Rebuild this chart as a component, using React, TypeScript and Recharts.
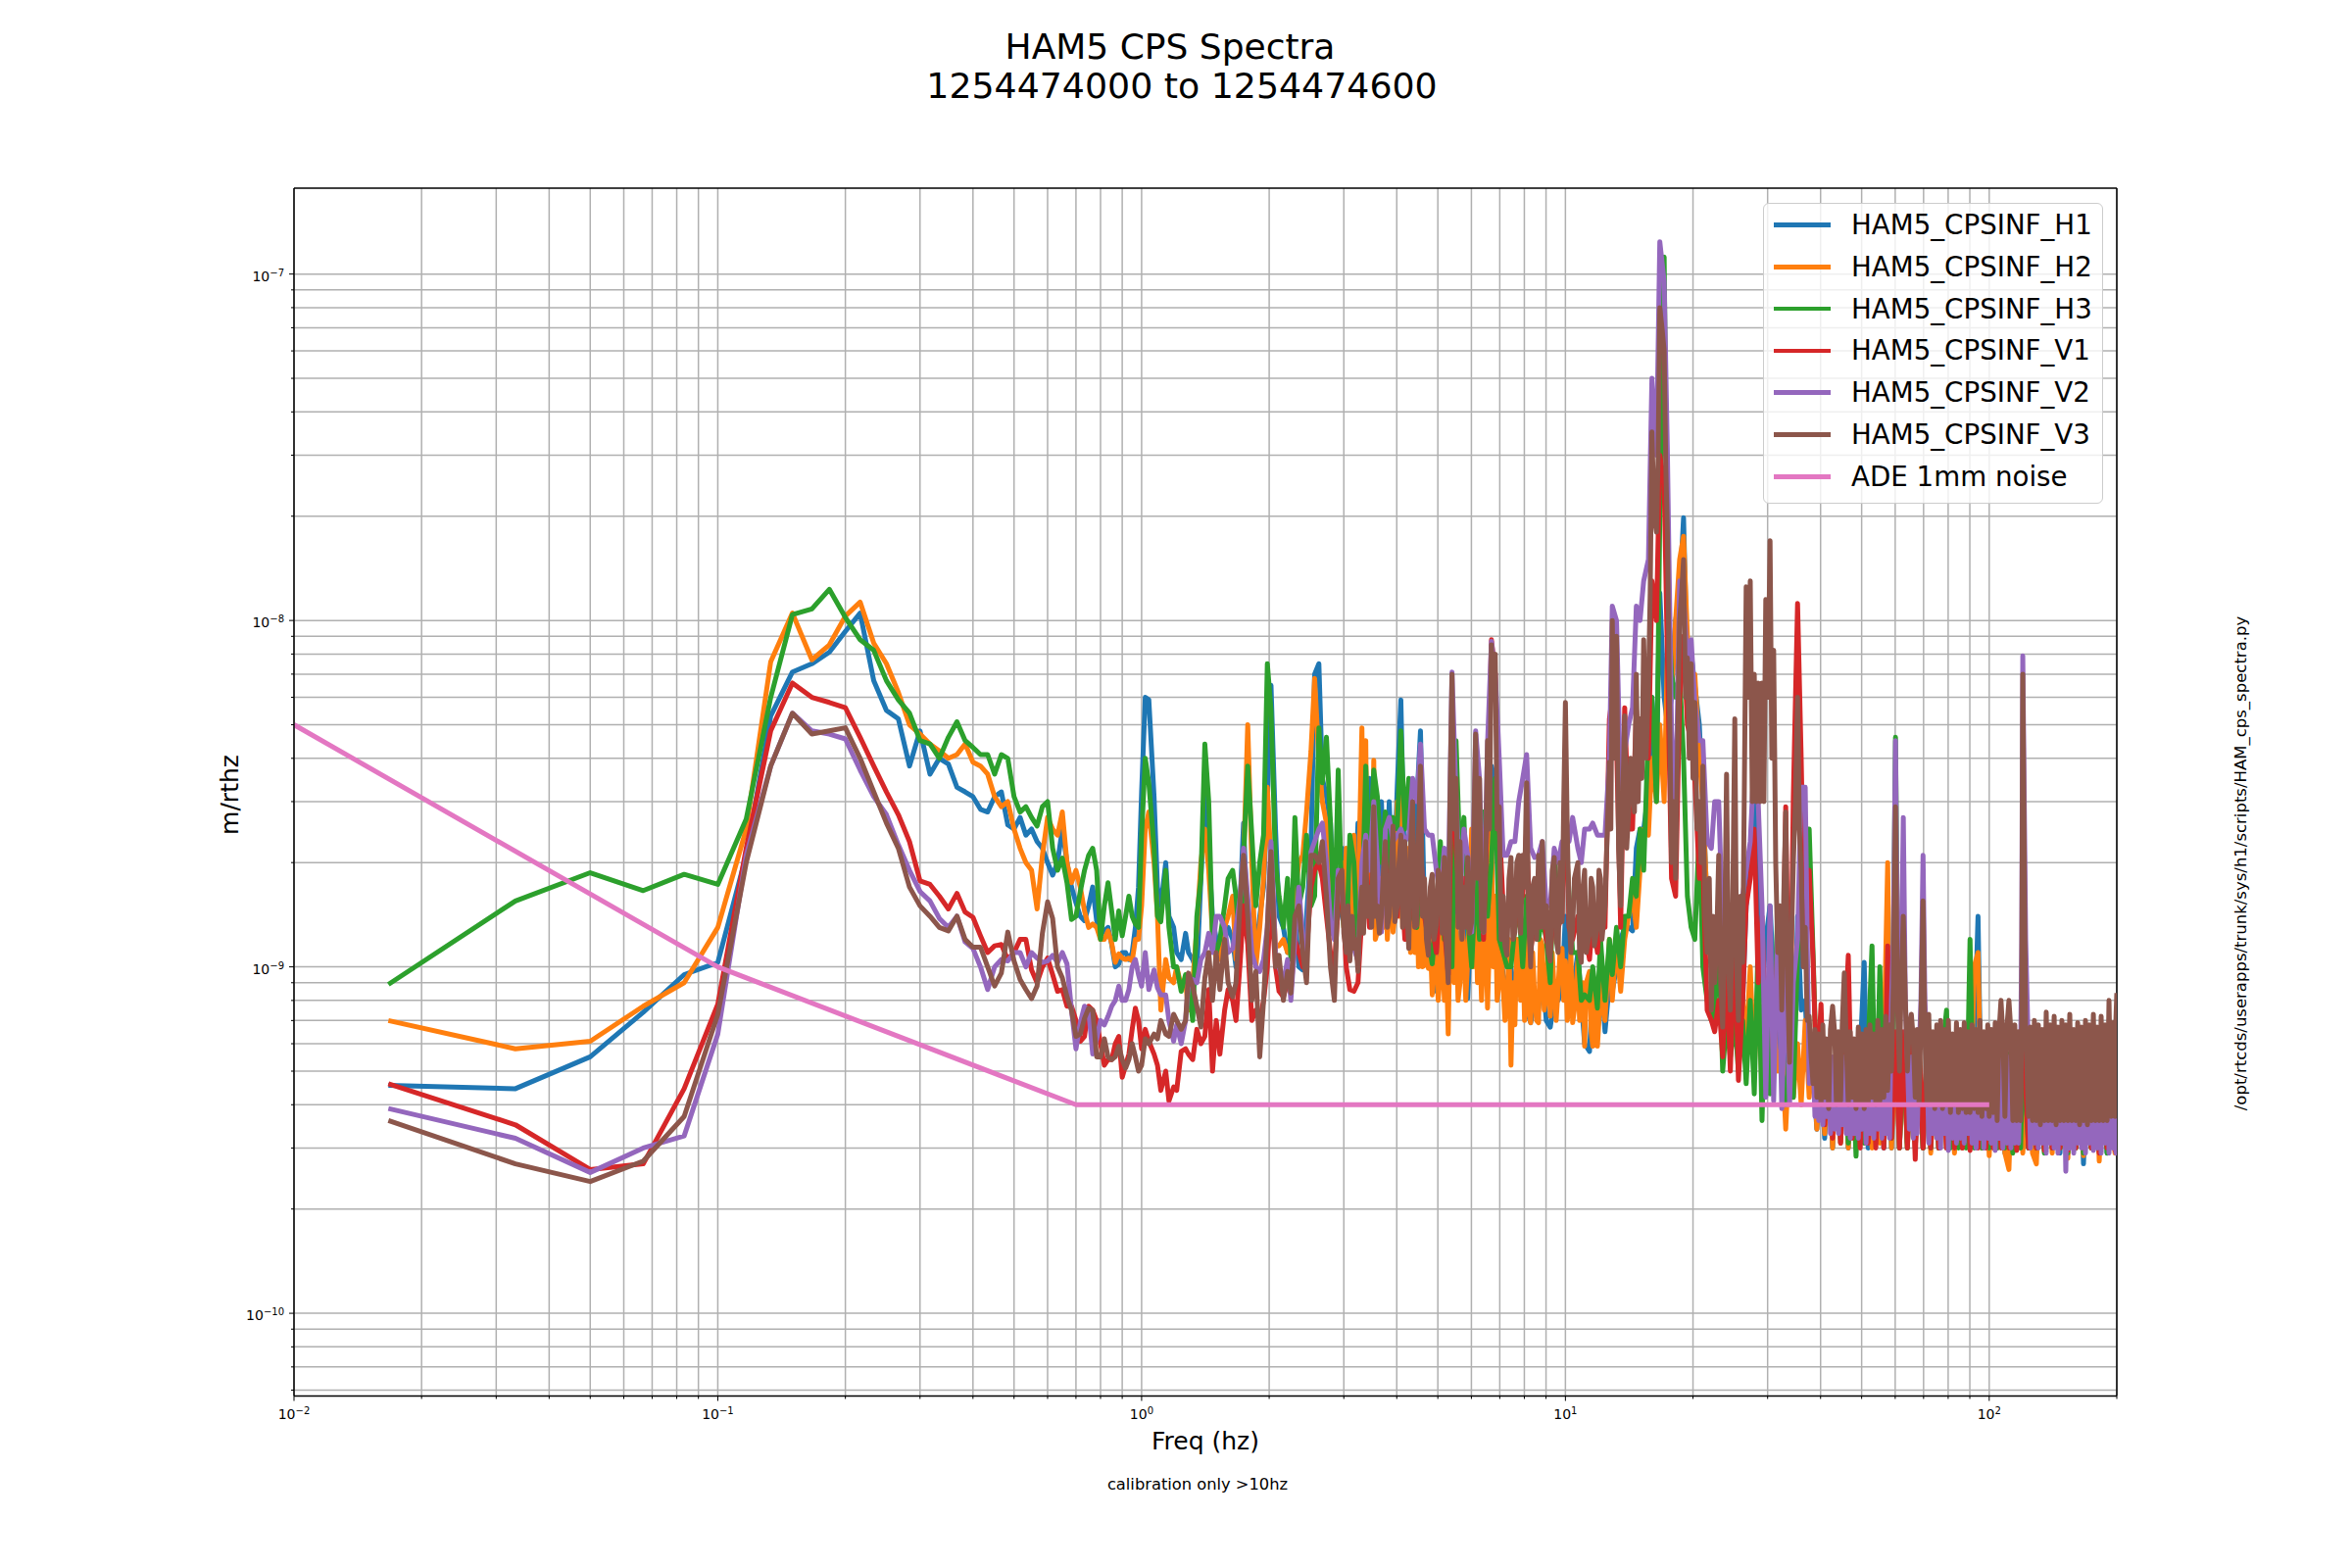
import { LineChart, Line, XAxis, YAxis, CartesianGrid, Legend, ReferenceLine } from "recharts";

// series values in units of 1e-10 m/rtHz
const UNIT = 1e-10;

const freqs = [
  0.0167,0.0333,0.05,0.0667,0.0833,0.1,0.1167,0.1333,0.15,0.1667,
  0.1833,0.2,0.2167,0.2333,0.25,0.2667,0.2833,0.3,0.3167,0.3333,
  0.35,0.3667,0.3833,0.4,0.4167,0.4333,0.45,0.4667,0.4833,0.5,
  0.5167,0.5333,0.55,0.5667,0.5833,0.6,0.6167,0.6333,0.65,0.6667,
  0.6833,0.7,0.7167,0.7333,0.75,0.7667,0.7833,0.8,0.8167,0.8333,
  0.85,0.8667,0.8833,0.9,0.9167,0.9333,0.95,0.9667,0.9833,1.0,
  1.02,1.04,1.07,1.09,1.11,1.14,1.16,1.19,1.21,1.24,
  1.27,1.29,1.32,1.35,1.38,1.41,1.44,1.47,1.50,1.53,
  1.57,1.60,1.64,1.67,1.71,1.74,1.78,1.82,1.86,1.90,
  1.94,1.98,2.02,2.07,2.11,2.16,2.21,2.25,2.30,2.35,
  2.40,2.45,2.51,2.56,2.62,2.67,2.73,2.79,2.85,2.91,
  2.97,3.04,3.10,3.17,3.24,3.31,3.38,3.45,3.53,3.60,
  3.68,3.76,3.84,3.92,4.01,4.09,4.18,4.27,4.36,4.46,
  4.55,4.65,4.75,4.85,4.96,5.07,5.18,5.29,5.40,5.52,
  5.64,5.76,5.88,6.01,6.14,6.27,6.41,6.55,6.69,6.83,
  6.98,7.13,7.28,7.44,7.60,7.76,7.93,8.10,8.28,8.46,
  8.64,8.82,9.01,9.21,9.41,9.61,9.82,
  10.0,10.2,10.4,10.7,10.9,11.1,11.4,11.6,11.9,12.1,
  12.4,12.7,12.9,13.2,13.5,13.8,14.1,14.4,14.7,15.0,
  15.3,15.7,16.0,16.4,16.7,17.1,17.4,17.8,18.2,18.6,
  19.0,19.4,19.8,20.2,20.7,21.1,21.6,22.1,22.5,23.0,
  23.5,24.0,24.5,25.1,25.6,26.2,26.7,27.3,27.9,28.5,
  29.1,29.7,30.4,31.0,31.7,32.4,33.1,33.8,34.5,35.3,
  36.0,36.8,37.6,38.4,39.2,40.1,40.9,41.8,42.7,43.6,
  44.6,45.5,46.5,47.5,48.5,49.6,50.7,51.8,52.9,54.0,
  55.2,56.4,57.6,58.8,60.1,61.4,62.7,64.1,65.5,66.9,
  68.3,69.8,71.3,72.8,74.4,76.0,77.6,79.3,81.0,82.8,
  84.6,86.4,88.2,90.1,92.1,94.1,96.1,98.2,100,102.2,
  104.4,106.6,108.9,111.3,113.7,116.1,118.6,120,123.8,126.5,
  129.2,132,134.9,137.8,140.8,143.8,146.9,150,153.3,156.6,
  160,163.4,166.9,170.5,174.2,178,181.8,185.7,189.7,193.8,
  198,200,
];

// finer frequency steps for the stretches where the traces merge into a solid mass
const midFineFreqs = [
  2.97,3.00,3.04,3.07,3.10,3.14,3.17,3.20,3.24,3.27,
  3.31,3.34,3.38,3.41,3.45,3.49,3.53,3.56,3.60,3.64,
  3.68,3.72,3.76,3.80,3.84,3.88,3.92,3.96,4.01,4.05,
  4.09,4.13,4.18,4.22,4.27,4.31,4.36,4.41,4.46,4.50,
  4.55,4.60,4.65,4.70,4.75,4.80,4.85,4.90,4.96,5.01,
  5.07,5.12,5.18,5.23,5.29,5.34,5.40,5.46,5.52,5.58,
  5.64,5.70,5.76,5.82,5.88,5.94,6.01,6.07,6.14,6.20,
  6.27,6.34,6.41,6.48,6.55,6.62,6.69,6.76,6.83,6.90,
  6.98,7.05,7.13,7.20,7.28,7.36,7.44,7.52,7.60,7.68,
  7.76,7.84,7.93,8.01,8.10,8.19,8.28,8.37,8.46,8.55,
  8.64,8.73,8.82,8.91,9.01,9.11,9.21,9.31,9.41,9.51,
  9.61,9.71,9.82,9.91,10.0,10.1,10.2,10.3,10.4,10.5,
  10.7,10.8,10.9,11.0,11.1,11.2,11.4,11.5,11.6,11.7,
  11.9,12.0,12.1,12.2,12.4,
];
const peakFineFreqs = [
  12.7,12.8,12.9,13.05,13.2,13.35,13.5,13.65,13.8,13.95,
  14.1,14.25,14.4,14.55,14.7,14.85,15.0,15.15,15.3,15.5,
  15.7,15.85,16.0,16.2,16.4,16.55,16.7,16.9,17.1,17.25,
  17.4,17.6,17.8,18.0,18.2,18.4,18.6,18.8,19.0,19.2,
  19.4,19.6,19.8,20.0,20.2,20.45,20.7,20.9,21.1,21.35,
  21.6,21.85,22.1,22.3,22.5,22.75,23.0,23.25,23.5,23.75,
  24.0,24.25,24.5,24.8,25.1,25.35,25.6,25.9,26.2,26.45,
  26.7,27.0,27.3,27.6,27.9,28.2,28.5,28.8,29.1,29.4,
  29.7,30.05,30.4,30.7,31.0,31.35,31.7,32.05,32.4,32.75,
  33.1,33.45,33.8,34.15,34.5,34.9,35.3,35.65,36.0,36.4,
  36.8,37.2,37.6,38.0,
];
const bandFreqs = [
  38.4,38.8,39.2,39.6,40.1,40.5,40.9,41.3,41.8,42.2,
  42.7,43.2,43.6,44.1,44.6,45.0,45.5,46.0,46.5,47.0,
  47.5,48.0,48.5,49.1,49.6,50.1,50.7,51.2,51.8,52.3,
  52.9,53.4,54.0,54.6,55.2,55.8,56.4,57.0,57.6,58.2,
  58.8,59.4,60.1,60.7,61.4,62.0,62.7,63.4,64.1,64.8,
  65.5,66.2,66.9,67.6,68.3,69.0,69.8,70.5,71.3,72.0,
  72.8,73.6,74.4,75.2,76.0,76.8,77.6,78.4,79.3,80.1,
  81.0,81.9,82.8,83.7,84.6,85.5,86.4,87.3,88.2,89.1,
  90.1,91.1,92.1,93.1,94.1,95.1,96.1,97.1,98.2,99.2,
  100,101.1,102.2,103.3,104.4,105.5,106.6,107.7,108.9,110.1,
  111.3,112.5,113.7,114.9,116.1,117.3,118.6,119.3,120,121.9,
  123.8,125.1,126.5,127.8,129.2,130.6,132,133.4,134.9,136.3,
  137.8,139.3,140.8,142.3,143.8,145.3,146.9,148.4,150,151.6,
  153.3,154.9,156.6,158.3,160,161.7,163.4,165.1,166.9,168.7,
  170.5,172.3,174.2,176.1,178,179.9,181.8,183.7,185.7,187.7,
  189.7,191.7,193.8,195.9,198,199,200,
];

const h1 = [
  4.55,4.45,5.5,7.4,9.5,10.3,21,53,71,75,
  81,93,105,67,55,52,38,48,36,40,
  38.5,33,32,31,28.5,28,31,32,25.7,25,
  27,24,25,23,22,20,18.4,20,25,20,
  17,15.3,14,13.6,15,17,13.6,12.4,12.7,13,
  11.6,10,10.2,11,11,10.5,11,13,17,32,
  60,59,31,17,15,20,14,13,11,10.5,
  12.5,11,10.5,9.7,18,31,21,14,12,11,
  12,13,12,10,16,26,12.5,10.5,11,14,
  17,30,65,25,14,13,11,12,14,10,
  9.8,14,22,70,75,35,31,26,12.5,14,
  22,21,14,13,26,15,16,35,16,15,
  30,14,30,15,33,59,17,14,18,30,
  48,14,10,10,8.5,13,10,11,18,13,
  11,14,8.1,15,11,19,10,14,38,34,
  12,9.5,8.8,10,8,12,10,7.5,6.9,8,
  7.6,10,7,6.7,8,8,8.6,
  14,9.5,8.5,11,8,6,5.7,9,6.5,10,
  6.5,9,8.5,10,12,13,13,12.7,22,25,
  25,32,60,37,120,60,50,60,100,120,
  198,70,80,65,50,30,15,12,11,13,
  7,10,6.5,11,6,8,15,20,38,20,
  8,12,15,9,5.5,7,4.6,7,4.3,14,
  7.5,8,4.5,5,3.4,5,3.2,5.6,3,5.6,
  3.1,5.6,3,5.6,3.1,5.6,10.3,3,5.6,3.1,
  5.6,3,5.6,3,5.8,3,5.6,3.1,5.6,3,
  5.6,3,5.6,3,5.6,3,5.6,3,5.6,3,
  5.6,3,5.6,3,5.8,14,3,5.6,3,5.6,
  3,5.6,2.9,5.6,3,5.6,3,5.6,3,5.6,
  2.9,5.6,3,5.6,3,5.6,2.9,5.6,3,5.6,
  3,5.6,2.7,5.6,3,5.6,2.9,5.6,2.9,5.8,
  3,6.4,
];

const h2Low = [
  7,5.8,6.1,7.7,9,13,25,76,105,77,
  85,103,113,86,75,62,50,47,44,42,
  40,41,44,39,38,36,31,29,30,25,
  22,20,19,14.7,21,27,25,24,28,20,
  17.5,19,17,14.5,13,13.3,13,12,12,12.7,
  11.7,10.3,10.9,10.6,10.5,10.6,10.4,12,12,15,
  25,28,20,14,7.5,10.5,9.3,9,10,8.8,
  9,7.5,9,13,20,25,19,12.5,10.5,10.5,
  13,14,16,10.5,13,20,50,20,10,13,
  18,33,20,11.5,11.5,12,11,11,16,20,
  21,28,42,68,40,30,26,12.5,14,18,
];
const h2Fine = [
  20,13,22,12,16,13,24,11,10.4,25,
  49,20,45,14,25,14,39.5,12,12.6,18,
  14,13,22,12,15,18,12.6,14,30,14,
  35,13,15,12,22,11,16,11,17.5,10,
  16,10,10.1,14,9.9,12,8.3,13,10.4,8,
  9.6,13,8,11,6.4,12,14,9,14,8,
  9,13,11.3,8,10.4,16,25,10,16,9,
  12.6,8,11.3,14,7.6,12,26,10,16,8,
  9,12,8.8,7,7.6,12,5.2,9,6.8,12,
  11.6,8,11.3,7,14.2,7.5,6.9,11,8.2,7,
  6.9,12,11.5,7.5,8.2,11,7.2,11,8.6,7,
  8.6,11,11.3,8,10.4,7,7.6,11,6.9,7.5,
  10.4,7,7.2,9,5.9,9,9.7,6.5,5.9,9,
  5.9,7,9,8,7,
];
const h2High = [
  12,8,12,8.5,12,14,16,13,19,
  25,24,40,30,50,30,80,60,100,150,
  175,90,50,70,40,30,15,10,9,12,
  6.5,9,6,10,5.5,8,6,10,5,9,
  4.5,8,4.6,7,5,6,3.4,6,4.2,6,
  4,7,4.2,5.8,3.4,5.6,3.3,5.6,3,5.6,
  3.1,5.6,3,5.6,3,5.6,3.1,5.6,3,5.6,
  3.1,5.8,20,3,6,3,5.8,3,5.6,3,
  5.8,3,5.6,2.9,5.6,3,5.6,3,5.6,2.9,
  5.6,3,5.6,3,10,11,3,5.6,2.85,5.6,
  3,5.6,2.9,2.6,5.6,3,5.6,2.9,5.6,2.9,
  2.7,5.6,3,5.6,2.9,5.6,3,5.6,2.8,5.6,
  3,5.6,2.85,5.6,3,5.6,2.75,5.6,3,5.8,
  2.9,6.4,
];

const h3 = [
  8.9,15.5,18.7,16.6,18.5,17.3,26.7,60,104,108,
  123,102,88,82,67,59,54,45,44,40,
  46,51,45,43,41,41,36,41,40,31,
  28,29,27,25.5,29,30,22,19,20.6,17.5,
  13.7,14,16.5,19,21,22,19,12,15,17.5,
  14.5,12,14.5,12.3,14,16,14,13.3,13,24,
  40,34,22,14,13.5,19,13,10,10,8.5,
  9.5,9,7,14,18,44,30,12,11,12,
  15,18,19,16,11,21,38,24,15,20,
  24,75,55,20,16,13,18,10.5,27,15,
  17,24,15,16,49,34,46,26,13,37,
  15,11,24,20,11,14,38,20,37,31,
  20,28,18,27,25,48,25,35,14,13,
  19,16,12,10.2,14,23,12,17,10,45,
  20,27,14,10,18,12,28,14,20,35,
  12,11,10,10,13,15,10,16,11,15,
  12,14,12,9,21,15,21,
  25,16,11,11,8,8.3,8,10,7.6,12,
  8,12,9.5,13,10,14,14,18,16,25,
  19,50,60,30,200,1120,130,70,60,70,
  40,16,13,12,25,10,8,7,7.5,12,
  5,7,5.5,7,5,7,4.6,8,4.3,12,
  3.6,9,4.3,6,15,5,4,6,4.2,11,
  14,25,25,11,4.5,6,3.6,5.8,3.4,5.5,
  3.2,5.5,3.1,5.6,2.84,5.6,3.1,5.8,11.5,3.2,
  10,3.1,5.8,3.2,46,3,6,3,5.8,3.1,
  5.8,3,5.6,3,5.6,3,5.8,7.5,3,5.6,
  3,5.6,3,12,3,5.8,3,5.6,3,5.6,
  3,5.6,3,5.6,2.9,5.8,3,5.8,3,5.8,
  3,5.6,2.9,5.8,3,5.8,3,5.8,2.9,5.8,
  3,5.8,2.9,5.8,3,5.8,2.95,5.8,2.9,6,
  3,6.4,
];

const v1 = [
  4.6,3.5,2.6,2.7,4.45,7.8,22,48,66,60,
  58,56,46,38,32,27.5,23,17.7,17.3,16,
  14.7,16.3,14.4,13.9,12.3,11,11.5,11.6,10.5,11,
  12,12,9.8,9,10,10.6,9.5,8.5,8.6,7.7,
  7.7,7,6.1,6.3,7.7,7.5,7,6,5.2,5.4,
  5.4,6,6.3,4.8,5.2,5.6,6.6,7.6,7,5.8,
  6.6,6.1,5.6,5.2,4.4,5,4.1,4.5,4.4,5.7,
  5.8,5.6,5.4,6.6,6,6.3,8.6,5,7,5.6,
  7.5,8.6,8,7,10.5,15,11.6,7,7.5,7,
  8,10,16,10,8.5,8.2,9,8.5,12,11,
  10,11,17,19,20,18,14,11,10,15,
  17,10,8.6,8.5,9,14,18,13,24,15,
  14,20,15,17,14,19,12,13,20,15,
  22,14,12,13,11,16,13,9.5,40,22,
  15,18,15,14,35,25,12,30,88,70,
  26,15,13,15,13,18,16,25,11,14,
  15,17,12,11,15,13,14,
  35,13,12,14,11,13,10.5,14,11,15,
  13,52,60,45,13,56,25,25,55,35,
  60,40,130,100,300,250,80,18,16,60,
  90,50,45,35,18,20,7.5,7,6.5,8,
  5.5,10,5,12,4.7,8,15,18,25,9,
  14,6,11,5.2,12,6,29,4.8,31,112,
  40,10,19,10.5,4.5,7.8,3.5,6,3.2,6,
  3.1,6,10.8,3.2,6,3,6,3.1,6,3,
  6,3,11.5,3.2,6.5,3,6.5,3,6,2.78,
  6,3,6,3,6,3,6,3,6.2,3,
  6,3,6,2.95,6,3,6,3,6,3,
  6,3,6.2,3,6,2.95,6,7,3,6,
  3,6,2.95,6,3,6,3,6,2.95,6,
  3,6,3,6,3,6,2.9,6,3,6,
  2.95,6.5,
];

const v2Main = [
  3.9,3.2,2.55,3,3.25,6.4,21,38,54,48,
  47,45.5,37,31,27.5,22.5,19,16.5,15.5,13.8,
  13,14,11.8,11.3,10,8.6,10,10.5,10.4,11,
  11,10,11,10.6,10.3,10.4,10.8,10.3,11,10.2,
  7.5,5.8,6.9,7.7,7.5,5.6,6.2,7,6.8,7.2,
  7.7,8,8.8,8,8,8.6,10,10.5,9.5,8.8,
  11,8.6,9.8,8.7,8.3,8.3,7,6.1,6.8,6,
  7,9,9.2,9,10.5,11,12.5,11,14,14,
  13,11,11.3,13,16,22,16,11,10,9.7,
  10.5,13,23,11,10,9,10.5,8,12,17,
  12,11,21.5,23,25,26,20,13.5,12,19,
  16,12.6,12.6,11.3,10.4,20,24,19,30,20,
  12.6,25,27,23,24,25,23,24,35,30,
  44,25,24,24,19,16,22,16,71,31,
  16,25,21,12.6,48,35,12.6,44,87,70,
  40,21,21,23,23,30,35,41,22,20.7,
  21,23,15,15,22,20,23,
  23,23,27,22,20,25,25,26,24,24,
  24,40,110,100,33,42,50,56,110,100,
  130,150,500,300,1240,950,310,48,27,130,
  120,75,88,58,45,45,23,22,30,30,
  13,12,13,15,15,16,19,23,40,30,
  15,4.2,15,4.1,14,3.9,10.5,4,9,12,
  33,33,4.6,
];
const v2Band = [
  5.5,3.7,5.5,3.6,5.5,3.5,5.5,3.7,5.5,3.3,
  5.5,3.4,5.5,3.3,5.5,3.5,5.5,3.3,5.5,3.2,
  5.5,3.3,5.5,3.2,5.5,3.4,5.5,3.1,5.5,3.3,
  5.5,3.2,5.5,3.4,5.5,3.2,5.5,3.3,5.5,3.2,
  8,12,45,12,8,10,27,8,5.5,3.4,
  5.5,3.2,5.5,3.3,5.5,8,21,8,5.5,3.1,
  5.5,3.3,5.5,3.2,5.5,3,5.5,3.3,5.5,2.95,
  5.5,3.2,5.5,3.1,5.5,3.2,5.5,3.1,5.5,3.3,
  5.5,3.1,5.5,3,5.5,3.2,5.5,3,5.5,3.2,
  5.5,3.1,5.5,2.95,5.5,3.2,5.5,3,5.5,3.1,
  5.5,3,5.5,3.1,5.5,3.1,5.5,12,79,12,
  5.5,3,5.5,3.1,5.5,3,5.5,3.1,5.5,2.9,
  5.5,3.1,5.5,3,5.5,2.9,5.5,3.1,5.5,2.57,
  5.5,3,5.5,2.9,5.5,3.1,5.5,3,5.5,2.9,
  5.5,3.1,5.5,2.95,5.5,3,5.5,2.9,5.5,3.1,
  5.5,2.9,5.5,3,5.5,2.9,6.5,
];

const v3Low = [
  3.6,2.7,2.4,2.75,3.7,7.3,20,38,54,47,
  48,49,40,32,26,22,17,15,14,13,
  12.7,14,12,11.4,11.4,10,8.8,9.6,12.6,10.4,
  9.2,8.6,8.1,8.8,12.5,15.4,13.8,10,9.3,8.2,
  7.5,6.3,6.4,7.1,7.6,7.5,5.5,5.5,6.2,5.5,
  5.4,5.5,5.9,5.4,5.1,5.4,6,5.5,5,5.2,
  6.2,6,6.4,6.2,7,6.4,6.3,7.3,7,6.6,
  7,9.6,8.8,7.7,6.7,9.3,11,8,11,8.6,
  12,9,8.2,9,16,21,14,8,9.7,5.5,
  8,13,21.5,10,10.8,8,9.7,8.4,14,15,
  11,9,21,21,20,23,16,10,8,18,
];
const v3Mid = [
  19,12.5,11,15,10.4,14,11.3,12,9.7,14,
  17,12.5,23,14,17,13,29,14,15,12.5,
  14,19,23,13,14,19,25.5,13.5,15,20,
  24,13,23,15,11.3,22,30,13,13.2,24,
  38,14,18,12,10.8,17,18.5,12,13.2,19,
  18,12.5,20.7,12,9,30,70,25,35,13,
  23,12,17,13,20.7,12.5,13.5,22,47,18,
  35,13,12.6,20,45,25,85,60,80,25,
  29,12,16,11.5,10.8,18,20.7,12,12.6,20,
  21,12.5,21,17,34,14,10,17,18,12,
  21,13,23,13,15,11,10.4,19,20.7,12,
  11,20,13.5,30,58,25,14,11,13,18,
  20,11,10.3,17,19,11,12.5,18,17,11.5,
  13,19,18,12,15,
];
const v3Peaks = [
  39,25,100,40,90,22,15,30,53,22,
  28,40,33,28,70,30,52,35,88,40,
  65,120,350,200,180,300,800,700,600,280,
  180,60,20,30,18,45,100,120,150,60,
  78,40,75,35,58,25,30,20,38,14,
  11,18,7.5,14,9,12,21,9,6.7,12,
  36,10,7.5,14,52,10,7,16,10.3,35,
  125,60,130,30,70,30,66,30,66,30,
  115,60,170,40,82,20,11,15,7.5,16,
  28,9,5.3,12,20,30,60,25,19,10,
  13,7,7.2,5.5,
];
const v3Band = [
  4.6,6.6,4.2,6.4,4,6.8,4.2,6.2,3.9,6.6,
  7.7,6.4,4,6.5,4.1,6.8,9.6,6,4,6.5,
  4.2,6.2,3.9,6.7,4.1,6.4,3.9,6.6,4,6.8,
  4.2,6.4,4,7,4.1,6.6,4.2,7.2,4.4,6.8,
  5,9,29,8,5,9,14,8,5,6.8,
  7.3,6.2,4.2,6.6,4,7,15.5,6.4,4,7.3,
  4.1,6.5,3.9,6.8,4,7,3.9,6.6,4,7,
  3.8,6.4,4,6.9,3.8,6.6,3.9,6.9,3.8,6.5,
  3.8,6.8,3.9,6.6,3.8,7,3.7,6.5,3.9,6.8,
  3.7,6.6,3.8,6.9,3.6,6.5,8,6.4,3.7,6.7,
  8,6.5,3.6,6.8,3.6,6.5,3.6,6.8,70,6.5,
  3.7,6.7,3.6,7,3.6,6.8,3.5,6.6,3.6,7.4,
  3.6,6.8,3.6,7.2,3.5,6.7,3.6,7,3.6,6.8,
  3.6,7.3,3.6,6.6,3.6,6.9,3.5,6.7,3.6,7,
  3.5,6.8,3.6,7.3,3.6,6.7,3.6,7.2,3.6,6.8,
  3.6,8,3.7,6.9,3.7,7,8.4,
];

const adeFreqs = [0.01, 0.1, 0.7, 100];
const adeValues = [50, 10, 4, 4];

const xTicks = [
  0.01,0.02,0.03,0.04,0.05,0.06,0.07,0.08,0.09,
  0.1,0.2,0.3,0.4,0.5,0.6,0.7,0.8,0.9,
  1,2,3,4,5,6,7,8,9,
  10,20,30,40,50,60,70,80,90,
  100,200,
];
const yTicks = [
  6e-11,7e-11,8e-11,9e-11,
  1e-10,2e-10,3e-10,4e-10,5e-10,6e-10,7e-10,8e-10,9e-10,
  1e-9,2e-9,3e-9,4e-9,5e-9,6e-9,7e-9,8e-9,9e-9,
  1e-8,2e-8,3e-8,4e-8,5e-8,6e-8,7e-8,8e-8,9e-8,
  1e-7,
];
const xDomain = [0.01, 200];
const yDomain = [5.77e-11, 1.77e-7];

function rows(fs: number[], vs: number[]) {
  return fs.map((f, i) => ({ f, value: vs[i] * UNIT }));
}

const lowFreqs = freqs.slice(0, 110);
const highFreqs = freqs.slice(178);

const series = [
  { name: "HAM5_CPSINF_H1", color: "#1f77b4", data: rows(freqs, h1) },
  {
    name: "HAM5_CPSINF_H2",
    color: "#ff7f0e",
    data: rows([...lowFreqs, ...midFineFreqs, ...highFreqs], [...h2Low, ...h2Fine, ...h2High]),
  },
  { name: "HAM5_CPSINF_H3", color: "#2ca02c", data: rows(freqs, h3) },
  { name: "HAM5_CPSINF_V1", color: "#d62728", data: rows(freqs, v1) },
  {
    name: "HAM5_CPSINF_V2",
    color: "#9467bd",
    data: rows([...freqs.slice(0, 230), ...bandFreqs], [...v2Main, ...v2Band]),
  },
  {
    name: "HAM5_CPSINF_V3",
    color: "#8c564b",
    data: rows(
      [...lowFreqs, ...midFineFreqs, ...peakFineFreqs, ...bandFreqs],
      [...v3Low, ...v3Mid, ...v3Peaks, ...v3Band],
    ),
  },
  { name: "ADE 1mm noise", color: "#e377c2", data: rows(adeFreqs, adeValues) },
];

const FONT = "'DejaVu Sans', sans-serif";

function decade(value: number) {
  const exp = Math.log10(value);
  return Math.abs(exp - Math.round(exp)) < 1e-6 ? Math.round(exp) : null;
}

function expLabel(exp: number) {
  return exp < 0 ? `−${-exp}` : `${exp}`;
}

function XTick({ x, y, payload }: any) {
  const exp = decade(payload.value);
  return (
    <g>
      <line x1={x} x2={x} y1={y} y2={y + (exp === null ? 3 : 5)} stroke="#000" strokeWidth={1} />
      {exp !== null && (
        <text x={x} y={y + 23.5} textAnchor="middle" fontSize={14} fontFamily={FONT} fill="#000">
          10<tspan dy={-5} fontSize={10}>{expLabel(exp)}</tspan>
        </text>
      )}
    </g>
  );
}

function YTick({ x, y, payload }: any) {
  const exp = decade(payload.value);
  return (
    <g>
      <line x1={x} x2={x - (exp === null ? 3 : 5)} y1={y} y2={y} stroke="#000" strokeWidth={1} />
      {exp !== null && (
        <text x={x - 10} y={y + 7} textAnchor="end" fontSize={14} fontFamily={FONT} fill="#000">
          10<tspan dy={-5} fontSize={10}>{expLabel(exp)}</tspan>
        </text>
      )}
    </g>
  );
}

function LegendBox({ payload }: any) {
  return (
    <div
      style={{
        position: "relative",
        width: 347,
        height: 307,
        boxSizing: "border-box",
        background: "rgba(255,255,255,0.8)",
        border: "1.5px solid #ccc",
        borderRadius: 6,
        fontFamily: FONT,
        fontSize: 27.7,
        color: "#000",
      }}
    >
      {(payload || []).map((item: any, i: number) => (
        <div
          key={item.value}
          style={{ position: "absolute", left: 10, top: 0.5 + 42.8 * i, height: 43, display: "flex", alignItems: "center", whiteSpace: "nowrap" }}
        >
          <span style={{ display: "inline-block", width: 58, height: 4.5, background: item.color, marginRight: 21 }} />
          {item.value}
        </div>
      ))}
    </div>
  );
}

export default function App() {
  return (
    <div style={{ position: "absolute", left: 0, top: 0, width: 2400, height: 1600, background: "#fff" }}>
      <LineChart
        width={2400}
        height={1600}
        data={series[0].data}
        margin={{ top: 192, right: 240, bottom: 145.5, left: 240 }}
      >
        <CartesianGrid stroke="#b0b0b0" strokeWidth={1.5} verticalValues={xTicks} horizontalValues={yTicks} />
        <XAxis
          dataKey="f"
          type="number"
          scale="log"
          domain={xDomain}
          ticks={xTicks}
          interval={0}
          allowDataOverflow
          height={30}
          tickSize={0}
          tickMargin={0}
          tickLine={false}
          tick={<XTick />}
          axisLine={{ stroke: "#000", strokeWidth: 1.5 }}
        />
        <YAxis
          type="number"
          scale="log"
          domain={yDomain}
          ticks={yTicks}
          interval={0}
          allowDataOverflow
          width={60}
          tickSize={0}
          tickMargin={0}
          tickLine={false}
          tick={<YTick />}
          axisLine={{ stroke: "#000", strokeWidth: 1.5 }}
        />
        <ReferenceLine x={xDomain[1]} stroke="#000" strokeWidth={1.5} />
        <ReferenceLine y={yDomain[1]} stroke="#000" strokeWidth={1.5} />
        <Legend
          layout="horizontal"
          verticalAlign="middle"
          align="center"
          itemSorter={null}
          wrapperStyle={{ left: 1799, top: 206.5, right: "auto", bottom: "auto", width: 347, height: 307 }}
          content={<LegendBox />}
        />
        {series.map((s) => (
          <Line
            key={s.name}
            data={s.data}
            dataKey="value"
            name={s.name}
            stroke={s.color}
            strokeWidth={5}
            strokeLinejoin="round"
            dot={false}
            activeDot={false}
            isAnimationActive={false}
          />
        ))}
      </LineChart>
      <svg width={2400} height={1600} style={{ position: "absolute", left: 0, top: 0, pointerEvents: "none" }} fontFamily={FONT} fill="#000">
        <text x={1194} y={60} textAnchor="middle" fontSize={36}>HAM5 CPS Spectra</text>
        <text x={1206} y={100} textAnchor="middle" fontSize={36.3}>1254474000 to 1254474600</text>
        <text x={1230} y={1479} textAnchor="middle" fontSize={25}>Freq (hz)</text>
        <text transform="translate(243 811) rotate(-90)" textAnchor="middle" fontSize={25}>m/rthz</text>
        <text x={1222} y={1520} textAnchor="middle" fontSize={16.3}>calibration only &gt;10hz</text>
        <text transform="translate(2292 881) rotate(-90)" textAnchor="middle" fontSize={16.5}>/opt/rtcds/userapps/trunk/sys/h1/scripts/HAM_cps_spectra.py</text>
      </svg>
    </div>
  );
}
